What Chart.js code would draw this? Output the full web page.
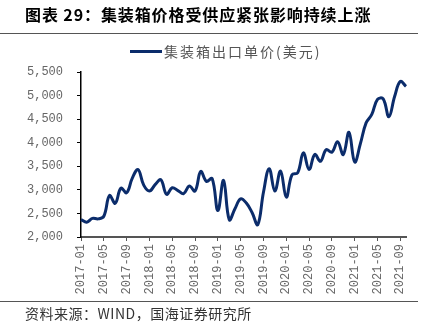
<!DOCTYPE html>
<html>
<head>
<meta charset="utf-8">
<script src="https://cdn.jsdelivr.net/npm/chart.js@4.4.0/dist/chart.umd.min.js"></script>
<style>
  html, body { margin: 0; padding: 0; background: #fff; }
  body { width: 433px; height: 334px; position: relative; overflow: hidden; }
  #c { position: absolute; left: 0; top: 0; }
  .t { position: absolute; white-space: nowrap; }
  #title { left: 25px; top: 3px; font: bold 16px "Noto Sans CJK SC", sans-serif; letter-spacing: 0.9px; line-height: 22px; color: #000; }
  .hr { position: absolute; left: 0; width: 418px; height: 1px; background: #555; }
  #legLine { position: absolute; left: 130px; top: 49.5px; width: 32px; height: 3px; background: #0b2c6b; }
  #legText { left: 164px; top: 42px; font: 14px "Noto Sans CJK SC", sans-serif; letter-spacing: 2px; line-height: 18px; color: #555; }
  #source { left: 25px; top: 304px; font: 14px "Noto Sans CJK SC", sans-serif; letter-spacing: 0.5px; line-height: 18px; color: #333; }
</style>
</head>
<body>
<canvas id="c" width="433" height="334"></canvas>
<div class="t" id="title">图表 29：集装箱价格受供应紧张影响持续上涨</div>
<div class="hr" style="top:33px"></div>
<div id="legLine"></div>
<div class="t" id="legText">集装箱出口单价(美元)</div>
<div class="hr" style="top:301px"></div>
<div class="t" id="source">资料来源：WIND，国海证券研究所</div>
<script>
const seriesName = "集装箱出口单价(美元)";
const months = [
  "2017-01","2017-02","2017-03","2017-04","2017-05","2017-06","2017-07","2017-08","2017-09","2017-10","2017-11","2017-12",
  "2018-01","2018-02","2018-03","2018-04","2018-05","2018-06","2018-07","2018-08","2018-09","2018-10","2018-11","2018-12",
  "2019-01","2019-02","2019-03","2019-04","2019-05","2019-06","2019-07","2019-08","2019-09","2019-10","2019-11","2019-12",
  "2020-01","2020-02","2020-03","2020-04","2020-05","2020-06","2020-07","2020-08","2020-09","2020-10","2020-11","2020-12",
  "2021-01","2021-02","2021-03","2021-04","2021-05","2021-06","2021-07","2021-08","2021-09","2021-10"
];
const prices = [
  2370, 2315, 2395, 2385, 2440, 2880, 2715, 3035, 2940, 3250, 3430, 3100,
  2975, 3110, 3215, 2905, 3045, 2985, 2920, 3080, 2975, 3390, 3180, 3240,
  2560, 3200, 2365, 2600, 2810, 2720, 2520, 2262, 2950, 3450, 2975, 3400,
  2845, 3320, 3360, 3785, 3430, 3750, 3605, 3855, 3800, 4020, 3750, 4220,
  3590, 3980, 4420, 4600, 4920, 4930, 4550, 4980, 5300, 5195
];
const yTicks = [2000, 2500, 3000, 3500, 4000, 4500, 5000, 5500];
const labelEvery = 4;

new Chart(document.getElementById('c'), {
  type: 'line',
  data: {
    labels: months,
    datasets: [{
      label: seriesName,
      data: prices,
      borderColor: '#0b2c6b',
      borderWidth: 3,
      pointRadius: 0,
      tension: 0.4,
      fill: false
    }]
  },
  options: {
    responsive: false,
    animation: false,
    devicePixelRatio: 1,
    layout: { padding: { top: 72, left: 0, right: 27, bottom: 0 } },
    plugins: { legend: { display: false }, title: { display: false }, tooltip: { enabled: false } },
    scales: {
      x: {
        type: 'category',
        offset: false,
        afterFit: (s) => { s.height = 97; },
        afterBuildTicks: (s) => { s.ticks = s.ticks.filter((t, i) => i % labelEvery === 0); },
        grid: { display: true, drawOnChartArea: false, drawTicks: true, tickLength: 4, color: '#555', lineWidth: 1 },
        border: { display: true, color: '#555', width: 2 },
        ticks: {
          autoSkip: false,
          maxRotation: 90,
          minRotation: 90,
          padding: 3,
          color: '#666',
          font: { family: '"Liberation Mono", monospace', size: 12 }
        }
      },
      y: {
        min: 2000,
        max: 5500,
        afterFit: (s) => { s.width = 81; },
        afterBuildTicks: (s) => { s.ticks = yTicks.map(v => ({ value: v })); },
        grid: { display: true, drawOnChartArea: false, drawTicks: true, tickLength: 4, color: '#000', lineWidth: 1 },
        border: { display: true, color: '#000', width: 1.5 },
        ticks: {
          padding: 14,
          color: '#666',
          font: { family: '"Liberation Mono", monospace', size: 12 },
          callback: (v) => v.toLocaleString('en-US')
        }
      }
    }
  }
});
</script>
</body>
</html>
